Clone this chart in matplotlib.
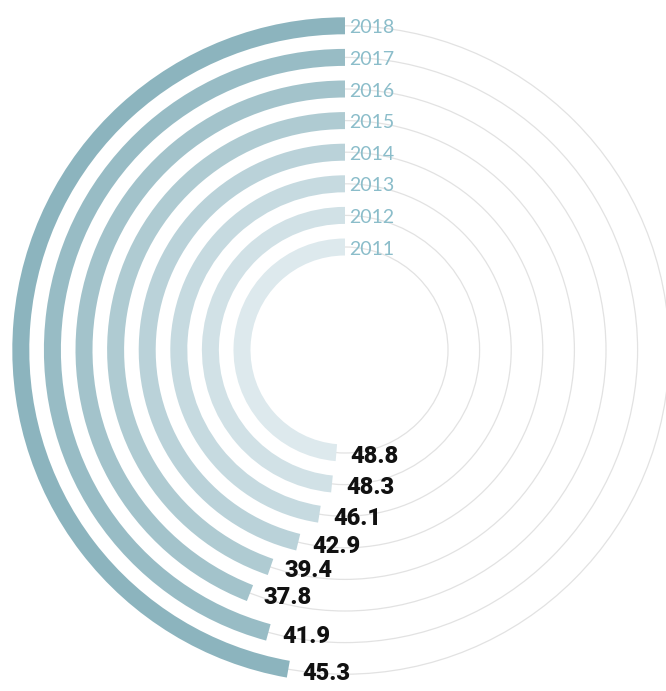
import matplotlib
matplotlib.use("Agg")
import matplotlib.pyplot as plt
import numpy as np
from matplotlib.patches import Wedge, Circle
from matplotlib.colors import to_rgb

# Data, innermost ring first.
years = ["2011", "2012", "2013", "2014", "2015", "2016", "2017", "2018"]
values = [48.8, 48.3, 46.1, 42.9, 39.4, 37.8, 41.9, 45.3]

# Linear scale value -> sweep angle (degrees, counter-clockwise from 12 o'clock).
def sweep(v):
    return 101.8 + 1.504 * v

W, H = 666, 691
fig = plt.figure(figsize=(W / 100, H / 100), dpi=100)
ax = fig.add_axes([0, 0, 1, 1])
ax.set_xlim(0, W)
ax.set_ylim(0, H)
ax.set_aspect("equal")
ax.axis("off")

cx, cy = 345, H - 350
r0, step, bar = 103, 31.6, 17

light = np.array(to_rgb("#dde9ed"))
dark = np.array(to_rgb("#8cb4be"))

for i, (year, v) in enumerate(zip(years, values)):
    r = r0 + i * step
    t = i / (len(years) - 1)
    col = light + (dark - light) * t

    # thin full guide circle
    ax.add_patch(Circle((cx, cy), r, fill=False, edgecolor="#e2e2e2", lw=0.9, zorder=1))

    a = sweep(v)
    ax.add_patch(Wedge((cx, cy), r + bar / 2, 90, 90 + a, width=bar,
                       facecolor=col, edgecolor="none", zorder=2))

    # year label at the start of the ring
    ax.text(cx + 4, cy + r - 2, year, ha="left", va="center", fontsize=14,
            family="Lato", fontweight="normal", color="#8bbdca", zorder=3)

    # value label at the end of the arc
    phi = np.radians(90 + a)
    ex = cx + r * np.cos(phi)
    ey = cy + r * np.sin(phi)
    ax.text(ex + 14, ey - 4, f"{v:.1f}", ha="left", va="center", fontsize=17,
            family="Roboto", fontweight=900, color="#111111", zorder=3)

fig.savefig("out.png", dpi=100)
